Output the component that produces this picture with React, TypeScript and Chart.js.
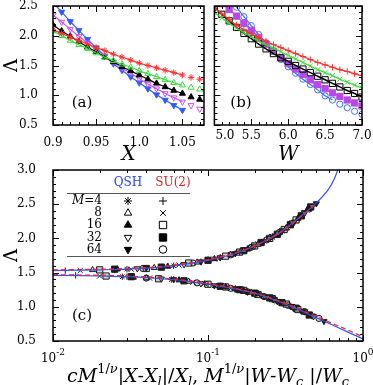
import React, { useEffect, useRef } from 'react';
import { Chart, registerables } from 'chart.js';
Chart.register(...registerables);

const SERIF = "'DejaVu Serif', serif";

// ---------------- Panel (a): QSH, Lambda vs X ----------------
const X_A = [0.9, 0.91, 0.92, 0.93, 0.94, 0.95, 0.96, 0.97, 0.98, 0.99, 1.0, 1.01, 1.02, 1.03, 1.04, 1.05, 1.06, 1.07];
const QSH4_A = [2.1, 2.04, 1.98, 1.92, 1.86, 1.8, 1.75, 1.69, 1.64, 1.59, 1.54, 1.5, 1.46, 1.42, 1.38, 1.34, 1.3, 1.27];
const QSH8_A = [2.08, 2.0, 1.92, 1.85, 1.78, 1.71, 1.64, 1.58, 1.52, 1.47, 1.41, 1.36, 1.31, 1.26, 1.21, 1.17, 1.13, 1.1];
const QSH16_A = [2.18, 2.08, 1.99, 1.9, 1.81, 1.73, 1.64, 1.56, 1.48, 1.41, 1.34, 1.27, 1.2, 1.14, 1.08, 1.03, 0.97, 0.93];
const QSH32_A = [2.35, 2.23, 2.11, 1.99, 1.88, 1.77, 1.66, 1.56, 1.46, 1.37, 1.28, 1.19, 1.11, 1.03, 0.96, 0.89, 0.83, 0.77];
const QSH64_A = [2.56, 2.4, 2.24, 2.09, 1.94, 1.8, 1.66, 1.53, 1.42, 1.31, 1.21, 1.11, 1.01, 0.92, 0.83, 0.75];
const FIT_END_A = 1.05;

// ---------------- Panel (b): SU(2), Lambda vs W ----------------
const W_B = [5.0, 5.1, 5.2, 5.3, 5.4, 5.5, 5.6, 5.7, 5.8, 5.9, 6.0, 6.1, 6.2, 6.3, 6.4, 6.5, 6.6, 6.7, 6.8, 6.9, 7.0];
const SU4_B = [2.47, 2.37, 2.27, 2.18, 2.1, 2.03, 1.97, 1.91, 1.85, 1.8, 1.75, 1.7, 1.65, 1.6, 1.55, 1.51, 1.47, 1.43, 1.4, 1.36, 1.33];
const SU8_B = [2.39, 2.3, 2.21, 2.13, 2.05, 1.98, 1.91, 1.85, 1.79, 1.73, 1.67, 1.61, 1.55, 1.49, 1.43, 1.38, 1.33, 1.27, 1.22, 1.17, 1.12];
const SU16_B = [2.48, 2.36, 2.25, 2.14, 2.04, 1.95, 1.86, 1.78, 1.7, 1.63, 1.57, 1.5, 1.44, 1.38, 1.32, 1.26, 1.2, 1.14, 1.08, 1.03, 0.97];
const SU32_B = [2.62, 2.54, 2.44, 2.33, 2.21, 2.09, 1.97, 1.86, 1.74, 1.63, 1.53, 1.44, 1.35, 1.26, 1.18, 1.11, 1.04, 0.98, 0.92, 0.87, 0.82];
const SU64_B = [2.95, 2.8, 2.64, 2.48, 2.32, 2.17, 2.02, 1.88, 1.74, 1.6, 1.48, 1.37, 1.27, 1.18, 1.09, 0.99, 0.92, 0.85, 0.79, 0.73, 0.68];
const FIT_END_B = [7.0, 7.0, 7.0, 6.7, 6.6];

// ---------------- Panel (c): scaling collapse ----------------
const QSH4_C = [[0.03, 1.55], [0.06, 1.6], [0.1, 1.69], [0.12, 1.72], [0.16, 1.8], [0.19, 1.87], [0.23, 1.96], [0.26, 2.03], [0.3, 2.11],
  [0.028, 1.44], [0.058, 1.4], [0.095, 1.34], [0.12, 1.3], [0.15, 1.26], [0.18, 1.22], [0.22, 1.17], [0.26, 1.12], [0.3, 1.06]];
const QSH8_C = [[0.018, 1.54], [0.045, 1.57], [0.085, 1.65], [0.14, 1.76], [0.17, 1.82], [0.21, 1.91], [0.25, 2.01], [0.28, 2.07], [0.32, 2.15],
  [0.04, 1.42], [0.075, 1.37], [0.12, 1.3], [0.15, 1.26], [0.19, 1.21], [0.23, 1.15], [0.27, 1.1], [0.31, 1.05], [0.36, 0.99]];
const QSH16_C = [[0.026, 1.55], [0.055, 1.59], [0.11, 1.7], [0.18, 1.84], [0.22, 1.94], [0.27, 2.04], [0.32, 2.15], [0.38, 2.29], [0.44, 2.43],
  [0.033, 1.43], [0.065, 1.39], [0.13, 1.29], [0.17, 1.24], [0.21, 1.19], [0.26, 1.12], [0.31, 1.05], [0.36, 0.99], [0.42, 0.92]];
const QSH32_C = [[0.035, 1.56], [0.07, 1.62], [0.12, 1.72], [0.2, 1.89], [0.25, 2.0], [0.3, 2.11], [0.35, 2.23], [0.42, 2.37], [0.47, 2.47],
  [0.05, 1.41], [0.09, 1.34], [0.15, 1.26], [0.2, 1.19], [0.24, 1.14], [0.3, 1.06], [0.35, 1.0], [0.42, 0.93], [0.48, 0.86]];
const QSH64_C = [[0.04, 1.57], [0.09, 1.66], [0.15, 1.78], [0.25, 2.0], [0.3, 2.11], [0.36, 2.24], [0.42, 2.38], [0.46, 2.45], [0.5, 2.51],
  [0.06, 1.4], [0.11, 1.31], [0.18, 1.22], [0.23, 1.15], [0.28, 1.08], [0.34, 1.01], [0.4, 0.94], [0.47, 0.87], [0.56, 0.79]];
const SU4_C = [[0.012, 1.53], [0.025, 1.54], [0.05, 1.58], [0.09, 1.66], [0.12, 1.72], [0.15, 1.78], [0.18, 1.85], [0.22, 1.93], [0.26, 2.02],
  [0.014, 1.46], [0.03, 1.44], [0.06, 1.4], [0.1, 1.33], [0.13, 1.29], [0.16, 1.25], [0.2, 1.19], [0.25, 1.13], [0.29, 1.07]];
const SU8_C = [[0.015, 1.53], [0.032, 1.55], [0.065, 1.61], [0.11, 1.7], [0.14, 1.76], [0.17, 1.82], [0.21, 1.92], [0.26, 2.02], [0.3, 2.11],
  [0.02, 1.45], [0.042, 1.42], [0.08, 1.36], [0.11, 1.31], [0.14, 1.27], [0.17, 1.23], [0.21, 1.18], [0.27, 1.1], [0.32, 1.04]];
const SU16_C = [[0.02, 1.54], [0.04, 1.56], [0.075, 1.64], [0.13, 1.74], [0.16, 1.8], [0.2, 1.89], [0.25, 2.0], [0.31, 2.13], [0.37, 2.27],
  [0.022, 1.45], [0.048, 1.41], [0.1, 1.33], [0.13, 1.29], [0.17, 1.24], [0.21, 1.18], [0.26, 1.12], [0.32, 1.04], [0.38, 0.96]];
const SU32_C = [[0.025, 1.55], [0.05, 1.58], [0.1, 1.68], [0.17, 1.82], [0.22, 1.94], [0.28, 2.06], [0.34, 2.2], [0.4, 2.33], [0.46, 2.46],
  [0.032, 1.44], [0.07, 1.38], [0.12, 1.3], [0.16, 1.25], [0.2, 1.2], [0.25, 1.13], [0.3, 1.06], [0.37, 0.98], [0.45, 0.88]];
const SU64_C = [[0.038, 1.56], [0.08, 1.64], [0.14, 1.76], [0.19, 1.87], [0.24, 1.98], [0.29, 2.09], [0.34, 2.2], [0.4, 2.33], [0.45, 2.43],
  [0.04, 1.42], [0.085, 1.35], [0.14, 1.27], [0.18, 1.22], [0.23, 1.15], [0.27, 1.1], [0.33, 1.02], [0.42, 0.93], [0.52, 0.83]];

const FIT_X_UP = [0.01, 0.015, 0.02, 0.03, 0.05, 0.07, 0.1, 0.15, 0.2, 0.3, 0.4, 0.5, 0.6, 0.65, 0.7, 0.75];
const QSH_FIT_UP = [1.53, 1.535, 1.54, 1.55, 1.58, 1.62, 1.68, 1.78, 1.89, 2.11, 2.33, 2.52, 2.72, 2.86, 3.05, 3.25];
const SU_FIT_UP = [1.54, 1.545, 1.55, 1.56, 1.59, 1.63, 1.69, 1.79, 1.89, 2.1, 2.32, 2.51];
const FIT_X_LO = [0.01, 0.015, 0.02, 0.03, 0.05, 0.07, 0.1, 0.15, 0.2, 0.3, 0.4, 0.5, 0.6, 0.8, 1.0];
const QSH_FIT_LO = [1.46, 1.455, 1.45, 1.44, 1.41, 1.38, 1.33, 1.26, 1.2, 1.06, 0.94, 0.84, 0.76, 0.63, 0.53];
const SU_FIT_LO = [1.47, 1.465, 1.46, 1.45, 1.42, 1.39, 1.34, 1.27, 1.2, 1.07, 0.95, 0.86, 0.78, 0.66, 0.56];

// ---------------- ticks & legend text ----------------
const Y_TICKS_AB = [0.5, 1.0, 1.5, 2.0, 2.5];
const Y_LABELS_AB = ['0.5', '1.0', '1.5', '2.0', '2.5'];
const X_TICKS_A = [0.9, 0.95, 1.0, 1.05];
const X_LABELS_A = ['0.9', '0.95', '1.0', '1.05'];
const X_TICKS_B = [5.0, 5.5, 6.0, 6.5, 7.0];
const X_LABELS_B = ['5.0', '5.5', '6.0', '6.5', '7.0'];
const Y_TICKS_C = [0.5, 1.0, 1.5, 2.0, 2.5, 3.0];
const Y_LABELS_C = ['0.5', '1.0', '1.5', '2.0', '2.5', '3.0'];
const X_TICKS_C = [0.01, 0.1, 1];
const X_EXP_C = ['-2', '-1', '0'];
const LEGEND_M = ['4', '8', '16', '32', '64'];
const Y_TITLE = 'Λ';

// ---------------- styles ----------------
type Sty = { color: string; style: string; rot: number; fill: boolean; r: number };
const QSH_STY: Sty[] = [
  { color: '#ff3030', style: 'star', rot: 0, fill: false, r: 3.2 },
  { color: '#3cdc3c', style: 'triangle', rot: 0, fill: false, r: 3.5 },
  { color: '#000000', style: 'triangle', rot: 0, fill: true, r: 3.5 },
  { color: '#cc4ff0', style: 'triangle', rot: 180, fill: false, r: 3.5 },
  { color: '#2f5bff', style: 'triangle', rot: 180, fill: true, r: 3.5 },
];
const SU_STY: Sty[] = [
  { color: '#ff3030', style: 'cross', rot: 0, fill: false, r: 3.2 },
  { color: '#3cdc3c', style: 'crossRot', rot: 0, fill: false, r: 3.6 },
  { color: '#000000', style: 'rect', rot: 0, fill: false, r: 4.4 },
  { color: '#b848e8', style: 'rect', rot: 0, fill: true, r: 4.4 },
  { color: '#3f6fff', style: 'circle', rot: 0, fill: false, r: 3.1 },
];

function drawMarker(ctx: CanvasRenderingContext2D, s: Sty, x: number, y: number, r: number, color: string) {
  ctx.save();
  ctx.translate(x, y);
  ctx.rotate((s.rot * Math.PI) / 180);
  ctx.strokeStyle = color;
  ctx.fillStyle = color;
  ctx.lineWidth = 1;
  ctx.beginPath();
  if (s.style === 'triangle') {
    for (let k = 0; k < 3; k++) {
      const a = (k * 2 * Math.PI) / 3;
      const px = Math.sin(a) * r;
      const py = -Math.cos(a) * r;
      if (k) ctx.lineTo(px, py);
      else ctx.moveTo(px, py);
    }
    ctx.closePath();
    if (s.fill) ctx.fill();
    ctx.stroke();
  } else if (s.style === 'rect') {
    const h = r * Math.SQRT1_2;
    ctx.rect(-h, -h, 2 * h, 2 * h);
    if (s.fill) ctx.fill();
    ctx.stroke();
  } else if (s.style === 'circle') {
    ctx.arc(0, 0, r, 0, Math.PI * 2);
    if (s.fill) ctx.fill();
    ctx.stroke();
  } else {
    const d = r * Math.SQRT1_2;
    if (s.style === 'cross' || s.style === 'star') {
      ctx.moveTo(-r, 0); ctx.lineTo(r, 0); ctx.moveTo(0, -r); ctx.lineTo(0, r);
    }
    if (s.style === 'crossRot' || s.style === 'star') {
      ctx.moveTo(-d, -d); ctx.lineTo(d, d); ctx.moveTo(-d, d); ctx.lineTo(d, -d);
    }
    ctx.stroke();
  }
  ctx.restore();
}

type Seg = [string, boolean, number]; // text, italic, 0 base / 1 sup / -1 sub
const TITLE_C: Seg[] = [
  ['c', true, 0], ['M', true, 0], ['1/', false, 1], ['ν', true, 1], ['|', false, 0], ['X', true, 0], ['-', false, 0], ['X', true, 0], ['l', true, -1],
  ['|/', false, 0], ['X', true, 0], ['l', true, -1], [', ', false, 0], ['M', true, 0], ['1/', false, 1], ['ν', true, 1], ['|', false, 0],
  ['W', true, 0], ['-', false, 0], ['W', true, 0], ['c', true, -1], [' |/', false, 0], ['W', true, 0], ['c', true, -1],
];

function drawRich(ctx: CanvasRenderingContext2D, segs: Seg[], cx: number, base: number, size: number, targetW: number) {
  const fontFor = (s: Seg, sz: number) => `${s[1] ? 'italic ' : ''}${s[2] === 0 ? sz : Math.round(sz * 0.66)}px ${SERIF}`;
  let total = 0;
  segs.forEach((s) => { ctx.font = fontFor(s, size); total += ctx.measureText(s[0]).width; });
  const sz = size * (targetW / total);
  total = 0;
  const ws = segs.map((s) => { ctx.font = fontFor(s, sz); const w = ctx.measureText(s[0]).width; total += w; return w; });
  let x = cx - total / 2;
  ctx.fillStyle = '#000';
  ctx.textBaseline = 'alphabetic';
  ctx.textAlign = 'left';
  segs.forEach((s, i) => {
    ctx.font = fontFor(s, sz);
    const dy = s[2] === 1 ? -sz * 0.45 : s[2] === -1 ? sz * 0.22 : 0;
    ctx.fillText(s[0], x, base + dy);
    x += ws[i];
  });
}

function drawYTitle(chart: any) {
  const ctx: CanvasRenderingContext2D = chart.ctx;
  const a = chart.chartArea;
  ctx.save();
  ctx.translate(12, (a.top + a.bottom) / 2);
  ctx.rotate(-Math.PI / 2);
  ctx.font = `18px ${SERIF}`;
  ctx.fillStyle = '#000';
  ctx.textAlign = 'center';
  ctx.textBaseline = 'middle';
  ctx.fillText(Y_TITLE, 0, 0);
  ctx.restore();
}

type FrameCfg = {
  xMajor: number[]; xMinor: number[]; yMajor: number[]; yMinor: number[];
  label: { text: string; x: number; y: number };
  extra?: (chart: any) => void;
};

function framePlugin(cfg: FrameCfg) {
  return {
    id: 'frame',
    afterDatasetsDraw(chart: any) {
      const ctx: CanvasRenderingContext2D = chart.ctx;
      const a = chart.chartArea;
      const xs = chart.scales.x;
      const ys = chart.scales.y;
      ctx.save();
      ctx.strokeStyle = '#000';
      ctx.lineWidth = 1;
      ctx.beginPath();
      const tx = (v: number, len: number) => {
        const p = Math.round(xs.getPixelForValue(v)) + 0.5;
        if (p < a.left - 0.5 || p > a.right + 0.5) return;
        ctx.moveTo(p, a.bottom); ctx.lineTo(p, a.bottom - len);
        ctx.moveTo(p, a.top); ctx.lineTo(p, a.top + len);
      };
      const ty = (v: number, len: number) => {
        const p = Math.round(ys.getPixelForValue(v)) + 0.5;
        if (p < a.top - 0.5 || p > a.bottom + 0.5) return;
        ctx.moveTo(a.left, p); ctx.lineTo(a.left + len, p);
        ctx.moveTo(a.right, p); ctx.lineTo(a.right - len, p);
      };
      cfg.xMajor.forEach((v) => tx(v, 6));
      cfg.xMinor.forEach((v) => tx(v, 3));
      cfg.yMajor.forEach((v) => ty(v, 6));
      cfg.yMinor.forEach((v) => ty(v, 3));
      ctx.stroke();
      ctx.lineWidth = 1.5;
      ctx.strokeRect(a.left, a.top, a.right - a.left, a.bottom - a.top);
      ctx.fillStyle = '#000';
      ctx.font = `15px ${SERIF}`;
      ctx.textAlign = 'center';
      ctx.textBaseline = 'middle';
      ctx.fillText(cfg.label.text, cfg.label.x, cfg.label.y);
      ctx.restore();
      if (cfg.extra) {
        ctx.save();
        cfg.extra(chart);
        ctx.restore();
      }
    },
  };
}

const range = (from: number, to: number, div: number) => {
  const out: number[] = [];
  for (let i = from; i <= to; i++) out.push(i / div);
  return out;
};

const pts = (xs: number[], ys: number[], maxX = Infinity) =>
  ys.map((y, i) => ({ x: xs[i], y })).filter((p) => p.x <= maxX + 1e-9);

function markerDs(data: any[], s: Sty, color = s.color, fillColor?: string) {
  return {
    data,
    showLine: false,
    pointStyle: s.style,
    pointRadius: s.r,
    pointRotation: s.rot,
    pointBorderColor: color,
    pointBackgroundColor: s.fill ? color : fillColor || 'rgba(255,255,255,0)',
    pointBorderWidth: 1,
    clip: 0,
  };
}

function lineDs(data: any[], color: string, width = 1.2, dash: number[] = []) {
  return {
    data,
    showLine: true,
    borderColor: color,
    borderWidth: width,
    borderDash: dash,
    pointRadius: 0,
    cubicInterpolationMode: 'monotone',
    clip: 0,
  };
}

function yScale(min: number, max: number, ticks: number[], labels: string[], width: number, pad: number) {
  return {
    type: 'linear',
    min,
    max,
    afterBuildTicks: (s: any) => { s.ticks = ticks.map((v) => ({ value: v })); },
    ticks: { callback: (_v: any, i: number) => labels[i], font: { family: SERIF, size: 12 }, color: '#000', padding: pad, autoSkip: false },
    grid: { display: false },
    border: { display: false },
    title: { display: false },
    afterFit: (s: any) => { s.width = width; s.paddingTop = 0; s.paddingBottom = 0; s.paddingLeft = 0; s.paddingRight = 0; },
  };
}

function xScale(type: string, min: number, max: number, ticks: number[], labels: string[] | null, height: number, title: string | null) {
  return {
    type,
    min,
    max,
    afterBuildTicks: (s: any) => { s.ticks = ticks.map((v) => ({ value: v })); },
    ticks: {
      display: !!labels,
      callback: (_v: any, i: number) => (labels ? labels[i] : ''),
      font: { family: SERIF, size: 12 },
      color: '#000',
      padding: 3,
      autoSkip: false,
      maxRotation: 0,
    },
    grid: { display: false },
    border: { display: false },
    title: title
      ? { display: true, text: title, font: { family: SERIF, size: 20, style: 'italic' }, color: '#000', padding: { top: 0, bottom: 3 } }
      : { display: false },
    afterFit: (s: any) => { s.height = height; s.paddingTop = 0; s.paddingBottom = 0; s.paddingLeft = 0; s.paddingRight = 0; },
  };
}

function baseOpts(scales: any, padding: any) {
  return {
    responsive: false,
    animation: false,
    devicePixelRatio: 1,
    events: [],
    layout: { padding },
    plugins: { legend: { display: false }, tooltip: { enabled: false } },
    scales,
  };
}

function buildA() {
  const series = [QSH4_A, QSH8_A, QSH16_A, QSH32_A, QSH64_A];
  const datasets: any[] = [];
  series.forEach((ys, i) => {
    datasets.push(markerDs(pts(X_A, ys), QSH_STY[i]));
    datasets.push(lineDs(pts(X_A, ys, FIT_END_A), QSH_STY[i].color));
  });
  return {
    type: 'scatter',
    data: { datasets },
    options: baseOpts(
      {
        x: xScale('linear', 0.9, 1.075, X_TICKS_A, X_LABELS_A, 45, 'X'),
        y: yScale(0.5, 2.5, Y_TICKS_AB, Y_LABELS_AB, 53, 7),
      },
      { left: 0, top: 6, right: 2, bottom: 0 }
    ),
    plugins: [
      framePlugin({
        xMajor: X_TICKS_A,
        xMinor: range(90, 107, 100),
        yMajor: Y_TICKS_AB,
        yMinor: range(5, 25, 10),
        label: { text: '(a)', x: 82, y: 103 },
        extra: drawYTitle,
      }),
    ],
  };
}

function buildB() {
  const series = [SU4_B, SU8_B, SU16_B, SU32_B, SU64_B];
  const datasets: any[] = [];
  series.forEach((ys, i) => {
    datasets.push(markerDs(pts(W_B, ys), SU_STY[i]));
    datasets.push(lineDs(pts(W_B, ys, FIT_END_B[i]), SU_STY[i].color, i === 2 ? 1.5 : 1.2));
  });
  const y = yScale(0.5, 2.5, Y_TICKS_AB, Y_LABELS_AB, 0, 0);
  (y as any).display = false;
  const extra = (chart: any) => {
    const ctx: CanvasRenderingContext2D = chart.ctx;
    const xs = chart.scales.x;
    const a = chart.chartArea;
    ctx.fillStyle = '#000';
    ctx.font = `12px ${SERIF}`;
    ctx.textBaseline = 'middle';
    X_TICKS_B.forEach((v, i) => {
      const px = xs.getPixelForValue(v);
      if (i === 0) {
        ctx.textAlign = 'left';
        ctx.fillText(X_LABELS_B[i], px + 1, a.bottom + 10.5);
      } else {
        ctx.textAlign = 'center';
        ctx.fillText(X_LABELS_B[i], px, a.bottom + 10.5);
      }
    });
  };
  return {
    type: 'scatter',
    data: { datasets },
    options: baseOpts(
      {
        x: xScale('linear', 5.0, 7.0, X_TICKS_B, null, 45, 'W'),
        y,
      },
      { left: 1, top: 6, right: 11, bottom: 0 }
    ),
    plugins: [
      framePlugin({
        xMajor: X_TICKS_B,
        xMinor: range(50, 70, 10),
        yMajor: Y_TICKS_AB,
        yMinor: range(5, 25, 10),
        label: { text: '(b)', x: 32, y: 103 },
        extra,
      }),
    ],
  };
}

function buildC() {
  const toXY = (arr: number[][]) => arr.map(([x, y]) => ({ x, y }));
  const qsh = [QSH4_C, QSH8_C, QSH16_C, QSH32_C, QSH64_C];
  const su = [SU4_C, SU8_C, SU16_C, SU32_C, SU64_C];
  const datasets: any[] = [
    lineDs(pts(FIT_X_UP, SU_FIT_UP), '#ff2020', 1.2, [5, 3]),
    lineDs(pts(FIT_X_LO, SU_FIT_LO), '#ff2020', 1.2, [5, 3]),
    lineDs(pts(FIT_X_UP, QSH_FIT_UP), '#3050ff', 1.2),
    lineDs(pts(FIT_X_LO, QSH_FIT_LO), '#3050ff', 1.2),
  ];
  qsh.forEach((arr, i) => datasets.push(markerDs(toXY(arr), QSH_STY[i], '#1a1a1a', 'rgba(180,180,180,0.6)')));
  su.forEach((arr, i) => datasets.push(markerDs(toXY(arr), SU_STY[i], '#1a1a1a', 'rgba(180,180,180,0.6)')));

  const minors: number[] = [];
  [0.01, 0.1].forEach((d) => { for (let k = 2; k <= 9; k++) minors.push(d * k); });

  const extra = (chart: any) => {
    const ctx: CanvasRenderingContext2D = chart.ctx;
    const xs = chart.scales.x;
    drawYTitle(chart);
    ctx.fillStyle = '#000';
    ctx.textBaseline = 'alphabetic';
    X_TICKS_C.forEach((v, i) => {
      const px = xs.getPixelForValue(v);
      ctx.font = `12px ${SERIF}`;
      const w1 = ctx.measureText('10').width;
      ctx.font = `9px ${SERIF}`;
      const w2 = ctx.measureText(X_EXP_C[i]).width;
      const x0 = px - (w1 + w2) / 2;
      ctx.textAlign = 'left';
      ctx.font = `12px ${SERIF}`;
      ctx.fillText('10', x0, 202);
      ctx.font = `9px ${SERIF}`;
      ctx.fillText(X_EXP_C[i], x0 + w1, 195);
    });
    const a = chart.chartArea;
    drawRich(ctx, TITLE_C, (a.left + a.right) / 2, 222, 19, 282);
    ctx.textAlign = 'center';
    ctx.textBaseline = 'middle';
    ctx.font = `12px ${SERIF}`;
    ctx.fillStyle = '#2040ff';
    ctx.fillText('QSH', 128, 23);
    ctx.fillStyle = '#e02020';
    ctx.fillText('SU(2)', 173, 23);
    ctx.strokeStyle = '#555';
    ctx.lineWidth = 1;
    ctx.beginPath();
    ctx.moveTo(67, 33.5); ctx.lineTo(190, 33.5);
    ctx.moveTo(67, 96.5); ctx.lineTo(190, 96.5);
    ctx.stroke();
    const rows = [41, 53, 65, 77.5, 89.5];
    LEGEND_M.forEach((m, i) => {
      const y = rows[i];
      ctx.fillStyle = '#000';
      ctx.textAlign = 'right';
      ctx.font = `12px ${SERIF}`;
      if (i === 0) {
        const wEq = ctx.measureText('=' + m).width;
        ctx.fillText('=' + m, 102, y);
        ctx.font = `italic 12px ${SERIF}`;
        ctx.fillText('M', 102 - wEq, y);
      } else {
        ctx.fillText(m, 102, y);
      }
      const q = QSH_STY[i];
      const s = SU_STY[i];
      drawMarker(ctx, q, 128, y, q.style === 'star' ? 4 : 4.3, '#000');
      drawMarker(ctx, s, 163, y, s.style === 'rect' ? 5.2 : s.style === 'circle' ? 3.8 : 4, '#000');
    });
  };

  return {
    type: 'scatter',
    data: { datasets },
    options: baseOpts(
      {
        x: xScale('logarithmic', 0.01, 1, X_TICKS_C, null, 44, null),
        y: yScale(0.5, 3.0, Y_TICKS_C, Y_LABELS_C, 53, 9),
      },
      { left: 0, top: 10, right: 10, bottom: 0 }
    ),
    plugins: [
      framePlugin({
        xMajor: X_TICKS_C,
        xMinor: minors,
        yMajor: Y_TICKS_C,
        yMinor: range(5, 30, 10),
        label: { text: '(c)', x: 82, y: 156 },
        extra,
      }),
    ],
  };
}

function Panel({ left, top, width, height, build }: { left: number; top: number; width: number; height: number; build: () => any }) {
  const ref = useRef<HTMLCanvasElement>(null);
  useEffect(() => {
    const chart = new Chart(ref.current as HTMLCanvasElement, build());
    return () => chart.destroy();
  }, []);
  return (
    <div style={{ position: 'absolute', left, top, width, height }}>
      <canvas ref={ref} width={width} height={height} style={{ width, height, display: 'block' }} />
    </div>
  );
}

export default function App() {
  return (
    <div style={{ position: 'fixed', left: 0, top: 0, width: 373, height: 385, background: '#fff', overflow: 'hidden' }}>
      <Panel left={0} top={160} width={373} height={225} build={buildC} />
      <Panel left={0} top={0} width={209} height={170} build={buildA} />
      <Panel left={209} top={0} width={164} height={170} build={buildB} />
    </div>
  );
}
